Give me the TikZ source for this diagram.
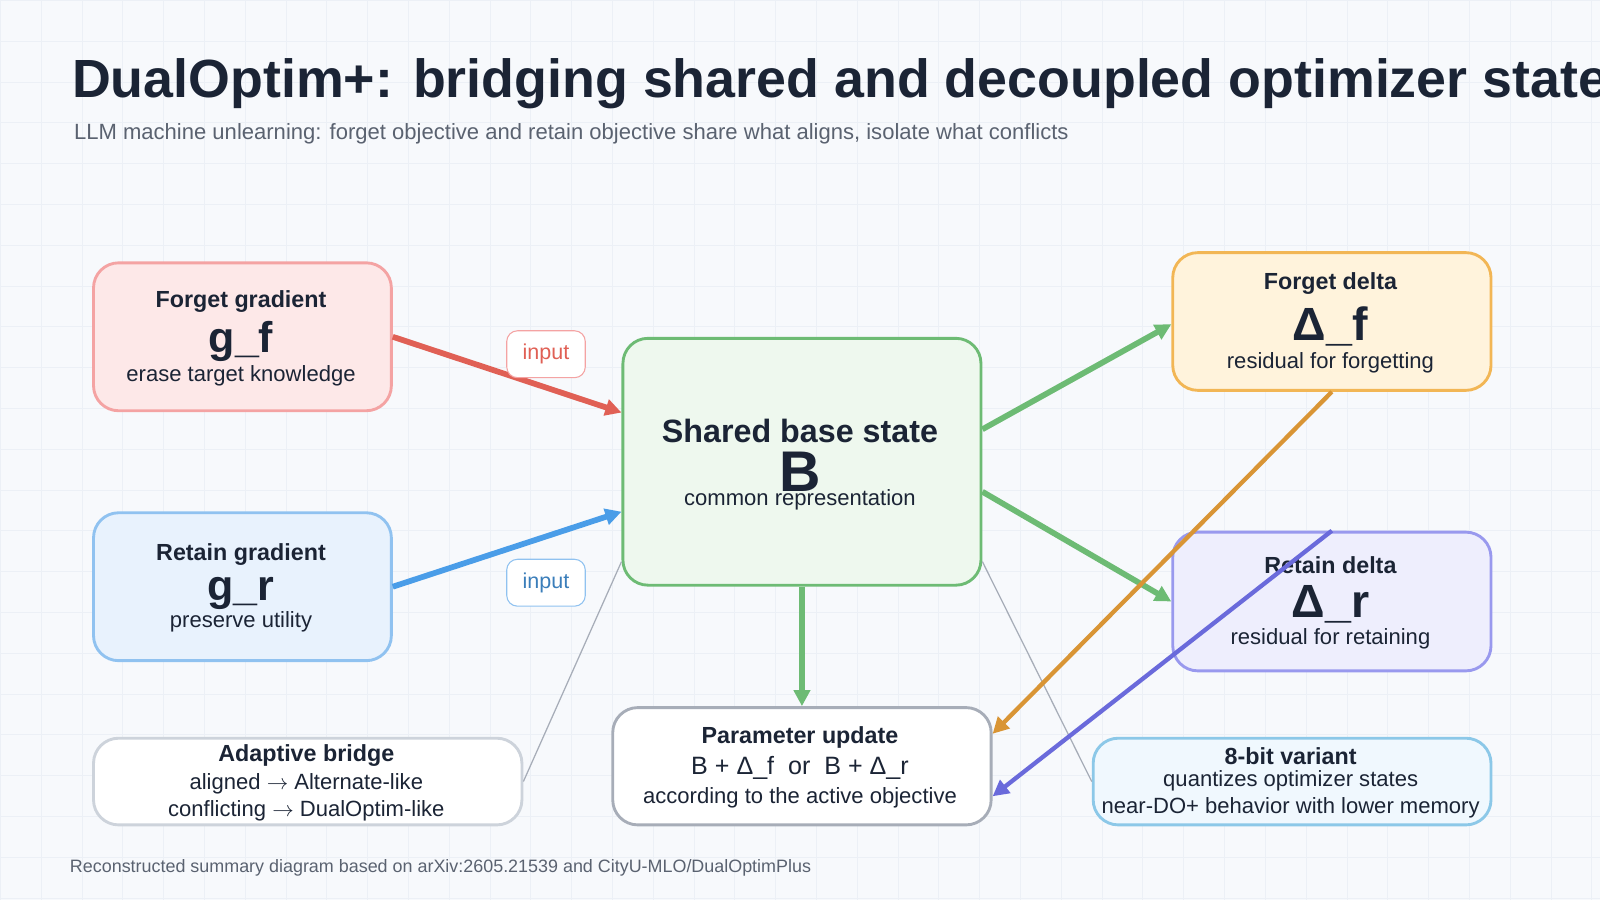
\documentclass[tikz,border=0pt]{standalone}
\usepackage{fontspec}
\setmainfont{Liberation Sans}
\usetikzlibrary{arrows.meta,positioning,calc}
\definecolor{ink}{RGB}{27, 36, 53}
\definecolor{subgray}{RGB}{90, 98, 112}
\definecolor{bgpage}{RGB}{247, 249, 252}
\definecolor{gridline}{RGB}{236, 240, 246}
\definecolor{redfill}{RGB}{253, 232, 232}
\definecolor{redline}{RGB}{244, 163, 163}
\definecolor{redarrow}{RGB}{224, 96, 85}
\definecolor{bluefill}{RGB}{232, 242, 253}
\definecolor{blueline}{RGB}{144, 194, 240}
\definecolor{bluearrow}{RGB}{74, 157, 232}
\definecolor{greenfill}{RGB}{238, 248, 238}
\definecolor{greenline}{RGB}{109, 187, 116}
\definecolor{orangefill}{RGB}{255, 243, 220}
\definecolor{orangeline}{RGB}{242, 182, 85}
\definecolor{orangearrow}{RGB}{217, 149, 53}
\definecolor{purplefill}{RGB}{238, 238, 253}
\definecolor{purpleline}{RGB}{153, 153, 238}
\definecolor{purplearrow}{RGB}{106, 106, 219}
\definecolor{grayline}{RGB}{167, 173, 184}
\definecolor{lightgrayline}{RGB}{205, 211, 219}
\definecolor{cyanfill}{RGB}{240, 248, 254}
\definecolor{cyanline}{RGB}{140, 200, 232}

\tikzset{
  box/.style={draw, rounded corners=14pt, line width=1.6pt, anchor=north west, inner sep=0pt},
  head/.style={font=\fontsize{13}{15}\selectfont\bfseries, text=ink},
  sym/.style={font=\fontsize{24}{26}\selectfont\bfseries, text=ink},
  body/.style={font=\fontsize{12.3}{14}\selectfont, text=ink},
  tag/.style={draw, rounded corners=6pt, line width=0.6pt, fill=white, minimum width=77*0.02cm, minimum height=46*0.02cm, font=\fontsize{12}{14}\selectfont},
  flow/.style={-{Triangle[length=9pt,width=9pt]}, line width=3.2pt},
  link/.style={grayline, line width=0.7pt}
}

\begin{document}
\begin{tikzpicture}[x=0.02cm, y=-0.02cm]
  % page
  \fill[bgpage] (0,0) rectangle (1568,882);
  \foreach \gx in {0,40,...,1560} \draw[gridline, line width=0.3pt] (\gx,0) -- (\gx,882);
  \foreach \gy in {0,40,...,880} \draw[gridline, line width=0.3pt] (0,\gy) -- (1568,\gy);
  \useasboundingbox (0,0) rectangle (1568,882);

  % titles
  \node[anchor=west, inner xsep=0pt, text=ink, font=\fontsize{30}{32}\selectfont\bfseries] (title) at (70,82) {DualOptim+: bridging shared and decoupled optimizer states};
  \node[anchor=west, inner xsep=0pt, text=subgray, font=\fontsize{12.3}{14}\selectfont] (subtitle) at (72,131) {LLM machine unlearning: forget objective and retain objective share what aligns, isolate what conflicts};
  \node[anchor=west, inner xsep=0pt, text=subgray, font=\fontsize{10}{12}\selectfont] (footer) at (68,851) {Reconstructed summary diagram based on arXiv:2605.21539 and CityU-MLO/DualOptimPlus};

  % boxes
  \node[box, fill=redfill, draw=redline, minimum width=292*0.02cm, minimum height=145*0.02cm] (fg) at (90,256) {};
  \node[head] at (236,295) {Forget gradient};
  \node[sym] at (236,334) {g\_f};
  \node[body] at (236,368) {erase target knowledge};

  \node[box, fill=bluefill, draw=blueline, minimum width=292*0.02cm, minimum height=145*0.02cm] (rg) at (90,501) {};
  \node[head] at (236,543) {Retain gradient};
  \node[sym] at (236,582) {g\_r};
  \node[body] at (236,609) {preserve utility};

  \node[box, fill=greenfill, draw=greenline, minimum width=351*0.02cm, minimum height=242*0.02cm] (sb) at (609,330) {};
  \node[text=ink, font=\fontsize{18}{20}\selectfont\bfseries] at (784,422) {Shared base state};
  \node[sym, font=\fontsize{32}{34}\selectfont\bfseries] at (784,462) {B};
  \node[body] at (784,490) {common representation};

  \node[box, fill=orangefill, draw=orangeline, minimum width=312*0.02cm, minimum height=135*0.02cm] (fd) at (1148,246) {};
  \node[head] at (1304,278) {Forget delta};
  \node[sym, font=\fontsize{26}{28}\selectfont\bfseries] at (1304,320) {Δ\_f};
  \node[body] at (1304,355) {residual for forgetting};

  \node[box, fill=purplefill, draw=purpleline, minimum width=312*0.02cm, minimum height=136*0.02cm] (rd) at (1148,520) {};
  \node[head] at (1304,554) {Retain delta};
  \node[sym, font=\fontsize{26}{28}\selectfont\bfseries] at (1304,592) {Δ\_r};
  \node[body] at (1304,626) {residual for retaining};

  \node[box, fill=white, draw=grayline, minimum width=371*0.02cm, minimum height=115*0.02cm] (pu) at (599,692) {};
  \node[head] at (784,723) {Parameter update};
  \node[text=ink, font=\fontsize{14}{16}\selectfont] at (784,753) {B + Δ\_f \ or \ B + Δ\_r};
  \node[body] at (784,782) {according to the active objective};

  \node[box, fill=white, draw=lightgrayline, minimum width=420*0.02cm, minimum height=85*0.02cm] (ab) at (90,722) {};
  \node[head] at (300,740) {Adaptive bridge};
  \node[body] at (300,768) {aligned \(\rightarrow\) Alternate-like};
  \node[body] at (300,795) {conflicting \(\rightarrow\) DualOptim-like};

  \node[box, fill=cyanfill, draw=cyanline, minimum width=390*0.02cm, minimum height=85*0.02cm] (eb) at (1070,722) {};
  \node[head] at (1265,741) {8-bit variant};
  \node[body] at (1265,765) {quantizes optimizer states};
  \node[body] at (1265,792) {near-DO+ behavior with lower memory};

  % connectors
  \draw[link] (ab.east) -- ($(sb.north west)!0.9!(sb.south west)$);
  \draw[link] ($(sb.north east)!0.9!(sb.south east)$) -- (eb.west);
  \draw[flow, redarrow] (fg.east) -- ($(sb.north west)!0.303!(sb.south west)$);
  \draw[flow, bluearrow] (rg.east) -- ($(sb.north west)!0.70!(sb.south west)$);
  \draw[flow, greenline] ($(sb.north east)!0.37!(sb.south east)$) -- ($(fd.north west)!0.52!(fd.south west)$);
  \draw[flow, greenline] ($(sb.north east)!0.62!(sb.south east)$) -- ($(rd.north west)!0.5!(rd.south west)$);
  \draw[flow, greenline] (sb.south) -- (pu.north);
  \draw[flow, orangearrow, line width=2.4pt] (fd.south) -- ($(pu.north east)!0.23!(pu.south east)$);
  \draw[flow, purplearrow, line width=2.4pt] (rd.north) -- ($(pu.north east)!0.75!(pu.south east)$);

  % tags
  \node[tag, draw=redline, text=redarrow] (tagf) at (535,347) {input};
  \node[tag, draw=blueline, text=bluearrow!80!black] (tagr) at (535,571) {input};
\end{tikzpicture}
\end{document}
